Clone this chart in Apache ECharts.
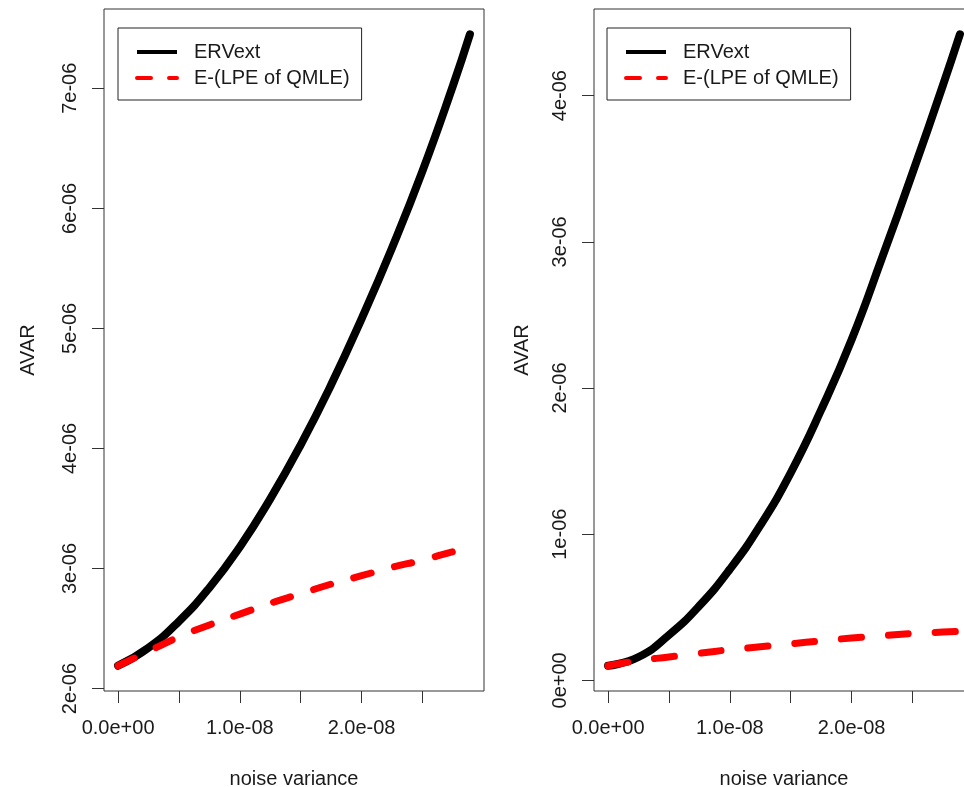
<!DOCTYPE html>
<html>
<head>
<meta charset="utf-8">
<script src="https://cdn.jsdelivr.net/npm/echarts@6/dist/echarts.min.js"></script>
<style>
  html, body { margin: 0; padding: 0; background: #fff; }
  #chart { width: 964px; height: 787px; }
</style>
</head>
<body>
<div id="chart"></div>
<script>
  const noiseVar = [0, 0.25e-8, 0.5e-8, 0.75e-8, 1.0e-8, 1.25e-8, 1.5e-8, 1.75e-8, 2.0e-8, 2.25e-8, 2.5e-8, 2.75e-8, 2.89e-8];

  // left panel
  const leftErv = [2.19e-6, 2.34e-6, 2.56e-6, 2.84e-6, 3.18e-6, 3.58e-6, 4.03e-6, 4.53e-6, 5.08e-6, 5.67e-6, 6.31e-6, 7.02e-6, 7.45e-6];
  const leftLpe = [2.19e-6, 2.31e-6, 2.43e-6, 2.53e-6, 2.62e-6, 2.71e-6, 2.79e-6, 2.87e-6, 2.94e-6, 3.01e-6, 3.07e-6, 3.14e-6, 3.17e-6];

  // right panel
  const rightErv = [0.10e-6, 0.16e-6, 0.31e-6, 0.51e-6, 0.76e-6, 1.06e-6, 1.42e-6, 1.85e-6, 2.33e-6, 2.89e-6, 3.47e-6, 4.07e-6, 4.42e-6];
  const rightLpe = [0.10e-6, 0.135e-6, 0.16e-6, 0.185e-6, 0.21e-6, 0.23e-6, 0.25e-6, 0.27e-6, 0.29e-6, 0.305e-6, 0.32e-6, 0.33e-6, 0.335e-6];

  // ticks and labels
  const xTicks = [0, 0.5e-8, 1.0e-8, 1.5e-8, 2.0e-8, 2.5e-8];
  const xLabelValues = [0, 1.0e-8, 2.0e-8];
  const xLabels = ['0.0e+00', '1.0e-08', '2.0e-08'];
  const leftYTicks = [2e-6, 3e-6, 4e-6, 5e-6, 6e-6, 7e-6];
  const leftYLabels = ['2e-06', '3e-06', '4e-06', '5e-06', '6e-06', '7e-06'];
  const rightYTicks = [0, 1e-6, 2e-6, 3e-6, 4e-6];
  const rightYLabels = ['0e+00', '1e-06', '2e-06', '3e-06', '4e-06'];

  const seriesNames = ['ERVext', 'E-(LPE of QMLE)'];

  const font = "'Liberation Sans', Arial, sans-serif";
  const textColor = '#1a1a1a';
  const axisColor = '#333';

  // like R: data range padded by 4% on each side
  function padRange(values) {
    const lo = Math.min(...values), hi = Math.max(...values);
    const d = (hi - lo) * 0.04;
    return [lo - d, hi + d];
  }

  function labelFor(v, values, texts) {
    let best = 0;
    values.forEach((t, i) => {
      if (Math.abs(t - v) < Math.abs(values[best] - v)) best = i;
    });
    return texts[best];
  }

  function pairs(xs, ys) {
    return xs.map((x, i) => [x, ys[i]]);
  }

  const xRange = padRange(noiseVar);
  const leftRange = padRange(leftErv.concat(leftLpe));
  const rightRange = padRange(rightErv.concat(rightLpe));

  function xAxisFor(gridIndex) {
    return {
      type: 'value',
      gridIndex: gridIndex,
      min: xRange[0],
      max: xRange[1],
      axisLine: { show: false, onZero: false },
      axisTick: { show: true, inside: false, length: 12, customValues: xTicks, lineStyle: { color: axisColor, width: 1 } },
      axisLabel: {
        customValues: xLabelValues,
        formatter: (v) => labelFor(v, xLabelValues, xLabels),
        margin: 27, fontSize: 20, fontFamily: font, color: textColor
      },
      splitLine: { show: false },
      name: 'noise variance',
      nameLocation: 'middle',
      nameGap: 78,
      nameTextStyle: { fontSize: 20, fontFamily: font, color: textColor }
    };
  }

  function yAxisFor(gridIndex, range, ticks, labels, nameGap) {
    return {
      type: 'value',
      gridIndex: gridIndex,
      min: range[0],
      max: range[1],
      axisLine: { show: false, onZero: false },
      axisTick: { show: true, inside: false, length: 12, customValues: ticks, lineStyle: { color: axisColor, width: 1 } },
      axisLabel: {
        customValues: ticks,
        rotate: 90,
        formatter: (v) => labelFor(v, ticks, labels),
        margin: 24, fontSize: 20, fontFamily: font, color: textColor
      },
      splitLine: { show: false },
      name: 'AVAR',
      nameLocation: 'middle',
      nameGap: nameGap,
      nameTextStyle: { fontSize: 20, fontFamily: font, color: textColor }
    };
  }

  function legendFor(left) {
    return {
      orient: 'vertical',
      left: left,
      top: 28,
      padding: [14, 12, 12, 17],
      itemWidth: 40,
      itemHeight: 14,
      itemGap: 6,
      borderColor: '#222',
      borderWidth: 1,
      borderRadius: 0,
      backgroundColor: '#fff',
      selectedMode: false,
      itemStyle: { opacity: 0 },
      textStyle: { fontSize: 20, lineHeight: 20, fontFamily: font, color: textColor, padding: [0, 0, 0, 12] },
      data: [
        { name: seriesNames[0], lineStyle: { color: '#000', width: 4, type: 'solid', cap: 'butt' } },
        { name: seriesNames[1], lineStyle: { color: '#ff0000', width: 4, type: [14, 18], cap: 'round' } }
      ]
    };
  }

  function ervSeries(axisIndex, values) {
    return {
      name: seriesNames[0], type: 'line',
      xAxisIndex: axisIndex, yAxisIndex: axisIndex,
      data: pairs(noiseVar, values),
      symbol: 'none', smooth: true,
      color: '#000',
      lineStyle: { color: '#000', width: 8, cap: 'round', join: 'round' },
      z: 2
    };
  }

  function lpeSeries(axisIndex, values, dash) {
    return {
      name: seriesNames[1], type: 'line',
      xAxisIndex: axisIndex, yAxisIndex: axisIndex,
      data: pairs(noiseVar, values),
      symbol: 'none', smooth: true,
      color: '#ff0000',
      lineStyle: { color: '#ff0000', width: 7, type: dash, cap: 'round', join: 'round' },
      z: 3
    };
  }

  const chart = echarts.init(document.getElementById('chart'), null, { renderer: 'canvas' });
  chart.setOption({
    animation: false,
    backgroundColor: '#fff',
    grid: [
      { left: 104, top: 9, width: 380, height: 682, show: true, borderColor: axisColor, borderWidth: 1, backgroundColor: 'transparent', outerBoundsMode: 'none' },
      { left: 594, top: 9, width: 380, height: 682, show: true, borderColor: axisColor, borderWidth: 1, backgroundColor: 'transparent', outerBoundsMode: 'none' }
    ],
    xAxis: [xAxisFor(0), xAxisFor(1)],
    yAxis: [
      yAxisFor(0, leftRange, leftYTicks, leftYLabels, 66),
      yAxisFor(1, rightRange, rightYTicks, rightYLabels, 62)
    ],
    legend: [legendFor(118), legendFor(607)],
    series: [
      ervSeries(0, leftErv),
      lpeSeries(0, leftLpe, [18, 24]),
      ervSeries(1, rightErv),
      lpeSeries(1, rightLpe, [20, 27])
    ]
  });
</script>
</body>
</html>
